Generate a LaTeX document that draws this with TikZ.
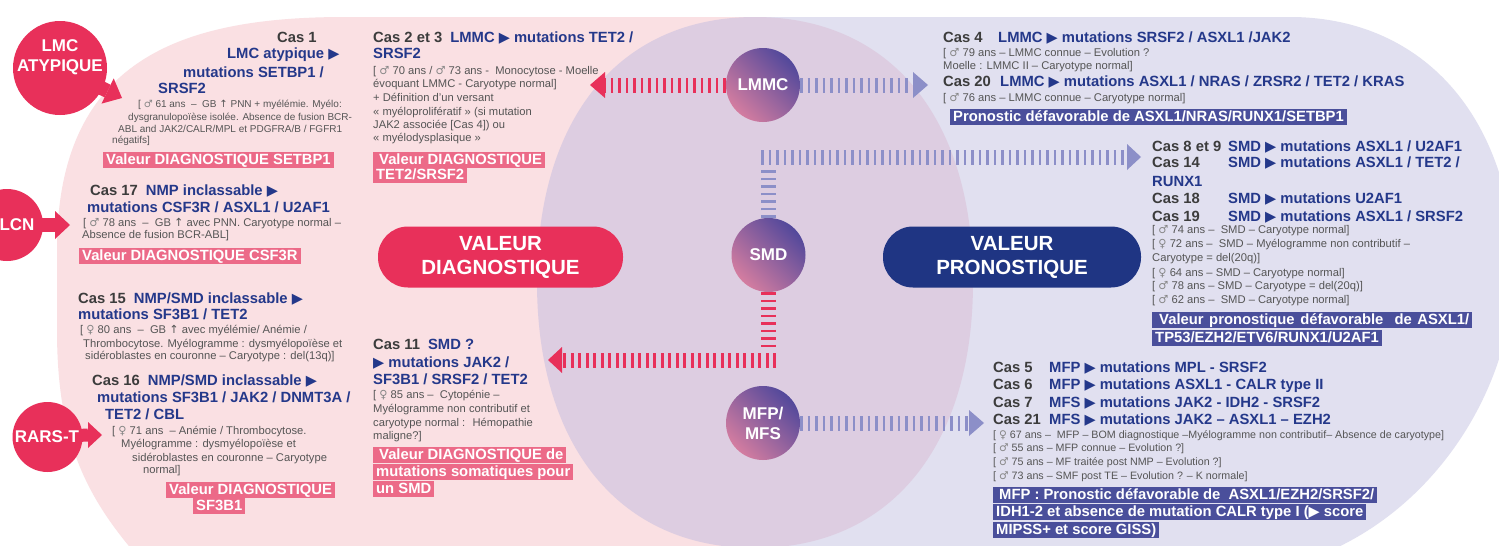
\documentclass[tikz,border=0pt]{standalone}
\usepackage{fontspec}
\setmainfont{Liberation Sans}
\newfontfamily\symf{DejaVu Sans}
\usetikzlibrary{calc}
\pgfdeclarelayer{bglayer}
\pgfdeclarelayer{midlayer}
\pgfsetlayers{bglayer,midlayer,main}
\definecolor{bgpink}{RGB}{250,224,227}
\definecolor{bglav}{RGB}{225,224,240}
\definecolor{midell}{RGB}{221,205,225}
\definecolor{crim}{RGB}{232,48,90}
\definecolor{navy}{RGB}{31,53,131}
\definecolor{tblue}{RGB}{36,56,138}
\definecolor{cgray}{RGB}{60,60,60}
\definecolor{sgray}{RGB}{85,85,85}
\definecolor{symg}{RGB}{135,135,135}
\definecolor{boxpink}{RGB}{236,106,136}
\definecolor{boxblue}{RGB}{74,79,155}
\definecolor{lavarr}{RGB}{140,143,200}
\definecolor{gpink}{RGB}{212,125,160}
\definecolor{gblue}{RGB}{82,72,155}
\newcommand{\fsz}[2]{\fontsize{#1}{#2}\selectfont}
\newcommand{\tri}{{\symf\fsz{14.5}{14.5}▶}}
\newcommand{\cas}[1]{\textcolor{cgray}{#1}}
\newcommand{\mM}{\textcolor{symg}{\symf ♂}}
\newcommand{\fF}{\textcolor{symg}{\symf ♀}}
\newcommand{\upA}{{\symf ↑}}
\begin{document}
\begin{tikzpicture}[x=1pt,y=-1pt,
  ttl/.style={anchor=base west, inner sep=0pt, font=\bfseries\fsz{14.8}{16}, text=tblue},
  cs/.style={anchor=base west, inner sep=0pt, font=\bfseries\fsz{14.8}{16}, text=cgray},
  sml/.style={anchor=base west, inner sep=0pt, font=\fsz{11.2}{13}, text=sgray},
  smlA/.style={sml, font=\fsz{10}{12}},
  smlB/.style={sml, font=\fsz{10.7}{12}},
  pbox/.style={anchor=north west, fill=boxpink, text=white, font=\bfseries\fsz{14.8}{16}, inner xsep=3pt, inner ysep=0pt, text height=12pt, text depth=4pt},
  bbox/.style={pbox, fill=boxblue},
  gcirc/.style={circle, minimum size=74pt, inner sep=0pt, left color=gpink, right color=gblue, shading angle=135, text=white, font=\bfseries\fsz{17}{20}, align=center},
  sidec/.style={circle, fill=crim, inner sep=0pt},
  sidet/.style={text=white, font=\bfseries\fsz{17}{20}, align=center, inner sep=0pt},
  pill/.style={rectangle, rounded corners=30pt, minimum height=61pt, text=white, align=center, font=\bfseries\fsz{20.5}{24}},
  dashbar/.style={line width=15pt, dash pattern=on 2.7pt off 4.8pt},
  shaft/.style={line width=14pt, crim}
]
\useasboundingbox (0,0) rectangle (1499,546);
\begin{pgfonlayer}{bglayer}
\clip (0,0) rectangle (1499,546);
\fill[white] (0,0) rectangle (1499,546);
\fill[bgpink] (762,17) -- (345,17) .. controls (180,17) and (57,60) .. (57,250) -- (57,330) .. controls (57,440) and (85,500) .. (150,570) -- (762,570) -- cycle;
\fill[bglav] (758,17) -- (1290,17) .. controls (1410,17) and (1505,100) .. (1515,260) .. controls (1515,400) and (1420,530) .. (1290,565) -- (758,570) -- cycle;
\fill[midell] (755,17) .. controls (890,17) and (973,117) .. (973,282) .. controls (973,447) and (890,548) .. (755,548) .. controls (620,548) and (537,447) .. (537,282) .. controls (537,117) and (620,17) .. (755,17) -- cycle;
\end{pgfonlayer}
\clip (0,0) rectangle (1499,546);

% central nodes
\node[gcirc] (lmmc) at (763,85) {LMMC};
\node[gcirc] (smd) at (768.5,255) {SMD};
\node[gcirc] (mfp) at (763,423) {MFP/\\MFS};

% dashed connectors
\begin{pgfonlayer}{midlayer}
\coordinate (t1) at (590,85);
\draw[dashbar, crim] (lmmc.west) -- ($(t1)+(15,0)$);
\fill[crim] (t1) -- ++(15,-13) -- ++(0,26) -- cycle;
\coordinate (t2) at (928,85);
\draw[dashbar, lavarr] (lmmc.east) -- ($(t2)+(-15,0)$);
\fill[lavarr] (t2) -- ++(-15,-13) -- ++(0,26) -- cycle;
\coordinate (c1) at (768.5,166);
\draw[dashbar, lavarr] (smd.north) -- (c1);
\coordinate (c2) at (761,157);
\coordinate (t3) at (1141,157);
\draw[dashbar, lavarr] (c2) -- ($(t3)+(-14,0)$);
\fill[lavarr] (t3) -- ++(-14,-13) -- ++(0,26) -- cycle;
\coordinate (c3) at (768.5,350);
\draw[dashbar, crim] (smd.south) -- (c3);
\coordinate (c4) at (776,360);
\coordinate (t4) at (548,360);
\draw[dashbar, crim] (c4) -- ($(t4)+(14,0)$);
\fill[crim] (t4) -- ++(14,-13) -- ++(0,26) -- cycle;
\coordinate (t5) at (984,423);
\draw[dashbar, lavarr] (mfp.east) -- ($(t5)+(-15,0)$);
\fill[lavarr] (t5) -- ++(-15,-13) -- ++(0,26) -- cycle;
\end{pgfonlayer}

% pills
\node[pill, fill=crim, minimum width=245pt] (vdiag) at (500.5,257) {VALEUR\\DIAGNOSTIQUE};
\node[pill, fill=navy, minimum width=258pt] (vpron) at (1012,257) {VALEUR\\PRONOSTIQUE};

% side circles with block arrows
\node[sidec, minimum size=94pt] (lmc) at (60,68) {};
\coordinate (lmctip) at (122,98);
\coordinate (lmcb) at ($(lmctip)!16pt!(lmc.center)$);
\draw[shaft] (lmc.center) -- (lmcb);
\fill[crim] (lmctip) -- ($(lmcb)!14pt!90:(lmctip)$) -- ($(lmcb)!14pt!-90:(lmctip)$) -- cycle;
\node[sidet] (lmct) at (60,57) {LMC\\ATYPIQUE};

\node[sidec, minimum size=72pt] (lcn) at (7,225) {};
\coordinate (lcntip) at (70,225);
\draw[shaft] (lcn.center) -- ($(lcntip)+(-15,0)$);
\fill[crim] (lcntip) -- ++(-15,-14) -- ++(0,28) -- cycle;
\node[sidet] (lcnt) at (17,225) {LCN};

\node[sidec, minimum size=70pt] (rars) at (47.5,437) {};
\coordinate (rarstip) at (102,435);
\draw[shaft, line width=13pt] (rars.center) -- ($(rarstip)+(-14,0)$);
\fill[crim] (rarstip) -- ++(-14,-13) -- ++(0,26) -- cycle;
\node[sidet] (rarst) at (47,437) {RARS-T};

% ---- Cas 1
\node[cs] (c1a) at (277,42) {Cas 1};
\node[ttl] (c1b) at (227,58) {LMC atypique \tri};
\node[ttl] (c1c) at (183,77) {mutations SETBP1 /};
\node[ttl] (c1d) at (158,93) {SRSF2};
\node[smlA] (c1e) at (138,107) {[ \mM{} 61 ans \ – \ GB \upA{} PNN + myélémie. Myélo:};
\node[smlA] (c1f) at (128,120) {dysgranulopoïèse isolée. Absence de fusion BCR-};
\node[smlA] (c1g) at (118,132) {ABL and JAK2/CALR/MPL et PDGFRA/B / FGFR1};
\node[smlA] (c1h) at (112,143) {négatifs]};
\node[pbox] (c1box) at (103,152) {Valeur DIAGNOSTIQUE SETBP1};

% ---- Cas 17
\node[ttl] (c17a) at (90,195) {\cas{Cas 17}\hspace{8pt}NMP inclassable \tri};
\node[ttl] (c17b) at (87,212) {mutations CSF3R / ASXL1 / U2AF1};
\node[sml] (c17c) at (83,226) {[ \mM{} 78 ans \ – \ GB \upA{} avec PNN. Caryotype normal –};
\node[sml] (c17d) at (82,238) {Absence de fusion BCR-ABL]};
\node[pbox] (c17box) at (79,248) {Valeur DIAGNOSTIQUE CSF3R};

% ---- Cas 15
\node[ttl] (c15a) at (78,303) {\cas{Cas 15}\hspace{8pt}NMP/SMD inclassable \tri};
\node[ttl] (c15b) at (78,319) {mutations SF3B1 / TET2};
\node[sml] (c15c) at (80,333) {[ \fF{} 80 ans \ – \ GB \upA{} avec myélémie/ Anémie /};
\node[sml] (c15d) at (83,347) {Thrombocytose. Myélogramme : dysmyélopoïèse et};
\node[sml] (c15e) at (85,359) {sidéroblastes en couronne – Caryotype : del(13q)]};

% ---- Cas 16
\node[ttl] (c16a) at (92,385) {\cas{Cas 16}\hspace{8pt}NMP/SMD inclassable \tri};
\node[ttl] (c16b) at (97,402) {mutations SF3B1 / JAK2 / DNMT3A /};
\node[ttl] (c16c) at (105,419) {TET2 / CBL};
\node[sml] (c16d) at (112,434) {[ \fF{} 71 ans \ – Anémie / Thrombocytose.};
\node[sml] (c16e) at (121,447) {Myélogramme : dysmyélopoïèse et};
\node[sml] (c16f) at (132,461) {sidéroblastes en couronne – Caryotype};
\node[sml] (c16g) at (143,473) {normal]};
\node[pbox] (c16box1) at (166,482) {Valeur DIAGNOSTIQUE};
\node[pbox] (c16box2) at (193,498) {SF3B1};

% ---- Cas 2 et 3
\node[ttl] (c2a) at (373,42) {\cas{Cas 2 et 3}\hspace{8pt}LMMC \tri{} mutations TET2 /};
\node[ttl] (c2b) at (373,58) {SRSF2};
\node[sml] (c2c) at (373,74) {[ \mM{} 70 ans / \mM{} 73 ans - \ Monocytose - Moelle};
\node[sml] (c2d) at (373,87) {évoquant LMMC - Caryotype normal]};
\node[sml] (c2e) at (373,101) {+ Définition d’un versant};
\node[sml] (c2f) at (373,115) {« myéloprolifératif » (si mutation};
\node[sml] (c2g) at (373,128) {JAK2 associée [Cas 4]) ou};
\node[sml] (c2h) at (373,141) {« myélodysplasique »};
\node[pbox] (c2box1) at (373,152) {\hspace{3pt}Valeur DIAGNOSTIQUE\hspace{3pt}};
\node[pbox] (c2box2) at (373,167) {TET2/SRSF2};

% ---- Cas 11
\node[ttl] (c11a) at (373,349) {\cas{Cas 11}\hspace{8pt}SMD ?};
\node[ttl] (c11b) at (373,367) {\tri{} mutations JAK2 /};
\node[ttl] (c11c) at (373,384) {SF3B1 / SRSF2 / TET2};
\node[sml] (c11d) at (373,398) {[ \fF{} 85 ans – \ Cytopénie –};
\node[sml] (c11e) at (373,412) {Myélogramme non contributif et};
\node[sml] (c11f) at (373,426) {caryotype normal : \ Hémopathie};
\node[sml] (c11g) at (373,439) {maligne?]};
\node[pbox] (c11box1) at (373,447) {\hspace{3pt}Valeur DIAGNOSTIQUE de};
\node[pbox] (c11box2) at (373,464) {mutations somatiques pour};
\node[pbox] (c11box3) at (373,481) {un SMD};

% ---- Cas 4 / 20
\node[cs] (c4a) at (943,42) {Cas 4};
\node[ttl] (c4b) at (998,42) {LMMC \tri{} mutations SRSF2 / ASXL1 /JAK2};
\node[sml] (c4c) at (943,56) {[ \mM{} 79 ans – LMMC connue – Evolution ?};
\node[sml] (c4d) at (943,69) {Moelle : LMMC II – Caryotype normal]};
\node[cs] (c20a) at (943,86) {Cas 20};
\node[ttl] (c20b) at (1000,86) {LMMC \tri{} mutations ASXL1 / NRAS / ZRSR2 / TET2 / KRAS};
\node[sml] (c20c) at (943,101) {[ \mM{} 76 ans – LMMC connue – Caryotype normal]};
\node[bbox] (c20box) at (950,109) {Pronostic défavorable de ASXL1/NRAS/RUNX1/SETBP1};

% ---- Cas 8-19
\node[cs] (c8a) at (1152,151) {Cas 8 et 9};
\node[ttl] (c8b) at (1228,151) {SMD \tri{} mutations ASXL1 / U2AF1};
\node[cs] (c14a) at (1152,167) {Cas 14};
\node[ttl] (c14b) at (1228,167) {SMD \tri{} mutations ASXL1 / TET2 /};
\node[ttl] (c14c) at (1152,186) {RUNX1};
\node[cs] (c18a) at (1152,203) {Cas 18};
\node[ttl] (c18b) at (1228,203) {SMD \tri{} mutations U2AF1};
\node[cs] (c19a) at (1152,221) {Cas 19};
\node[ttl] (c19b) at (1228,221) {SMD \tri{} mutations ASXL1 / SRSF2};
\node[sml] (s1) at (1152,233) {[ \mM{} 74 ans – \ SMD – Caryotype normal]};
\node[sml] (s2) at (1152,247) {[ \fF{} 72 ans – \ SMD – Myélogramme non contributif –};
\node[sml] (s3) at (1152,261) {Caryotype = del(20q)]};
\node[sml] (s4) at (1152,276) {[ \fF{} 64 ans – SMD – Caryotype normal]};
\node[sml] (s5) at (1152,289) {[ \mM{} 78 ans – SMD – Caryotype = del(20q)]};
\node[sml] (s6) at (1152,303) {[ \mM{} 62 ans – \ SMD – Caryotype normal]};
\node[bbox] (c8box1) at (1152,312) {\makebox[314pt][s]{\hspace{4pt}Valeur pronostique défavorable \ de ASXL1/}};
\node[bbox] (c8box2) at (1152,330) {TP53/EZH2/ETV6/RUNX1/U2AF1\hspace{4pt}};

% ---- Cas 5-21
\node[cs] (c5a) at (993,372) {Cas 5};
\node[ttl] (c5b) at (1049,372) {MFP \tri{} mutations MPL - SRSF2};
\node[cs] (c6a) at (993,389) {Cas 6};
\node[ttl] (c6b) at (1049,389) {MFP \tri{} mutations ASXL1 - CALR type II};
\node[cs] (c7a) at (993,407) {Cas 7};
\node[ttl] (c7b) at (1049,407) {MFS \tri{} mutations JAK2 - IDH2 - SRSF2};
\node[cs] (c21a) at (993,424) {Cas 21};
\node[ttl] (c21b) at (1049,424) {MFS \tri{} mutations JAK2 – ASXL1 – EZH2};
\node[smlB] (m1) at (993,438) {[ \fF{} 67 ans – \ MFP – BOM diagnostique –Myélogramme non contributif– Absence de caryotype]};
\node[smlB] (m2) at (993,451) {[ \mM{} 55 ans – MFP connue – Evolution ?]};
\node[smlB] (m3) at (993,465) {[ \mM{} 75 ans – MF traitée post NMP – Evolution ?]};
\node[smlB] (m4) at (993,479) {[ \mM{} 73 ans – SMF post TE – Evolution ? – K normale]};
\node[bbox] (c5box1) at (993,487) {\hspace{3pt}MFP : Pronostic défavorable de \ ASXL1/EZH2/SRSF2/};
\node[bbox] (c5box2) at (993,504) {IDH1-2 et absence de mutation CALR type I (\tri{} score\hspace{4pt}};
\node[bbox] (c5box3) at (993,522) {MIPSS+ et score GISS)\hspace{6pt}};
\end{tikzpicture}
\end{document}
